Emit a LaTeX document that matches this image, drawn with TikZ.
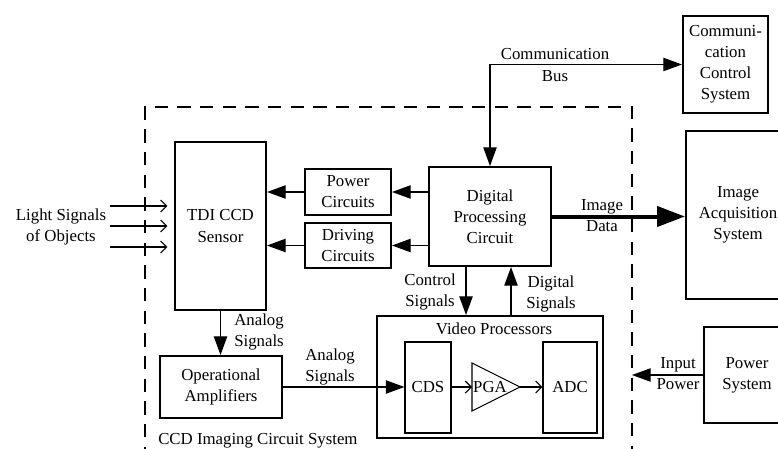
\documentclass[tikz,border=0pt]{standalone}
\usepackage{fontspec}
\setmainfont{Liberation Serif}
\usetikzlibrary{arrows.meta}
\tikzset{
	block/.style={rectangle, draw, line width=1.5pt, align=center, inner sep=0pt},
	subblock/.style={rectangle, draw, line width=0.8pt, align=center, inner sep=0pt},
	caption/.style={align=center, inner sep=0pt},
	arrow/.style={line width=0.9pt, -{Triangle[length=14pt,width=10pt]}},
	openarrow/.style={line width=0.8pt, -{Straight Barb[length=4.5pt,width=9pt]}},
	bigarrow/.style={line width=3pt, -{Triangle[length=21pt,width=15pt]}},
	boundary/.style={line width=1.5pt, dash pattern=on 10pt off 7pt},
}
\begin{document}
\begin{tikzpicture}[x=0.75pt, y=-0.75pt, font=\fontsize{12.6}{15.8}\selectfont]
	\useasboundingbox (0,0) rectangle (778,449);
	\clip (0,0) rectangle (778,449);
	% the blocks
	\node[block, minimum width=68.25pt, minimum height=126pt] (sensor) at (220.5,226) {TDI CCD\\Sensor};
	\node[block, minimum width=64.5pt, minimum height=34.5pt] (power) at (348,192) {Power\\Circuits};
	\node[block, minimum width=64.5pt, minimum height=33.75pt] (driving) at (348,245.5) {Driving\\Circuits};
	\node[block, minimum width=91.5pt, minimum height=74.25pt] (dpc) at (490,216.5) {Digital\\Processing\\Circuit};
	\node[block, minimum width=63.75pt, minimum height=72.75pt] (comm) at (725.5,64.5) {Communi-\\cation\\Control\\System};
	\node[block, minimum width=78pt, minimum height=126pt] (imgacq) at (738,215) {Image\\Acquisition\\System};
	\node[block, minimum width=64.5pt, minimum height=72pt] (psys) at (747,375) {Power\\System};
	\node[block, minimum width=91.5pt, minimum height=46.5pt] (opamp) at (221,387) {Operational\\Amplifiers};
	\node[block, minimum width=169.5pt, minimum height=91.5pt] (vp) at (490,377) {};
	\node[caption] (vptitle) at (494,329) {Video Processors};
	\node[subblock, minimum width=34.5pt, minimum height=68.25pt] (cds) at (428,387.5) {CDS};
	\node[subblock, minimum width=40.5pt, minimum height=68.25pt] (adc) at (570,387.5) {ADC};
	\coordinate (pgaL) at (472,387);
	\coordinate (pgaR) at (520,387);
	\draw[line width=0.8pt] (472,363) -- (pgaR) -- (472,411) -- cycle;
	\node[caption] (pga) at (490,387) {PGA};
	% the dashed boundary
	\coordinate (frameNE) at (632,107);
	\draw[boundary] (145,460) |- (frameNE) -- (632,460);
	\node[caption, anchor=west] (ccdsys) at (158,441) {CCD Imaging Circuit System};
	% light input
	\node[caption] (light) at (61,227) {Light Signals\\of Objects};
	\foreach \y [count=\i] in {206,226,247} {
		\coordinate (ls\i) at (110,\y);
		\draw[openarrow, shorten >=5pt] (ls\i) -- (ls\i -| sensor.west);
	}
	% connectors
	\draw[arrow] (dpc.west |- power.east) -- (power.east);
	\draw[arrow] (dpc.west |- driving.east) -- (driving.east);
	\draw[arrow] (power.west) -- (power.west -| sensor.east);
	\draw[arrow] (driving.west) -- (driving.west -| sensor.east);
	\draw[line width=0.9pt, {Triangle[length=14pt,width=10pt]}-{Triangle[length=14pt,width=10pt]}] (dpc.north) |- (comm.west);
	\node[caption] (buslabel) at (555,65) {Communication\\Bus};
	\draw[bigarrow] (dpc.east) -- (dpc.east -| imgacq.west);
	\node[caption] (datalabel) at (602,216) {Image\\Data};
	\draw[arrow] ([xshift=-18pt]dpc.south) -- ([xshift=-18pt]dpc.south |- vp.north);
	\node[caption] (ctrllabel) at (430,292) {Control\\Signals};
	\draw[arrow] ([xshift=15.75pt]dpc.south |- vp.north) -- ([xshift=15.75pt]dpc.south);
	\node[caption] (diglabel) at (551,294) {Digital\\Signals};
	\draw[arrow] (sensor.south) -- (sensor.south |- opamp.north);
	\node[caption] (analog1) at (259,332) {Analog\\Signals};
	\draw[arrow] (opamp.east) -- (opamp.east -| cds.west);
	\node[caption] (analog2) at (330,367) {Analog\\Signals};
	\draw[openarrow] (cds.east |- pgaL) -- (pgaL);
	\draw[openarrow] (pgaR) -- (pgaR -| adc.west);
	\draw[arrow] (psys.west) -- (psys.west -| frameNE);
	\node[caption] (inlabel) at (678,374) {Input\\Power};
\end{tikzpicture}
\end{document}
